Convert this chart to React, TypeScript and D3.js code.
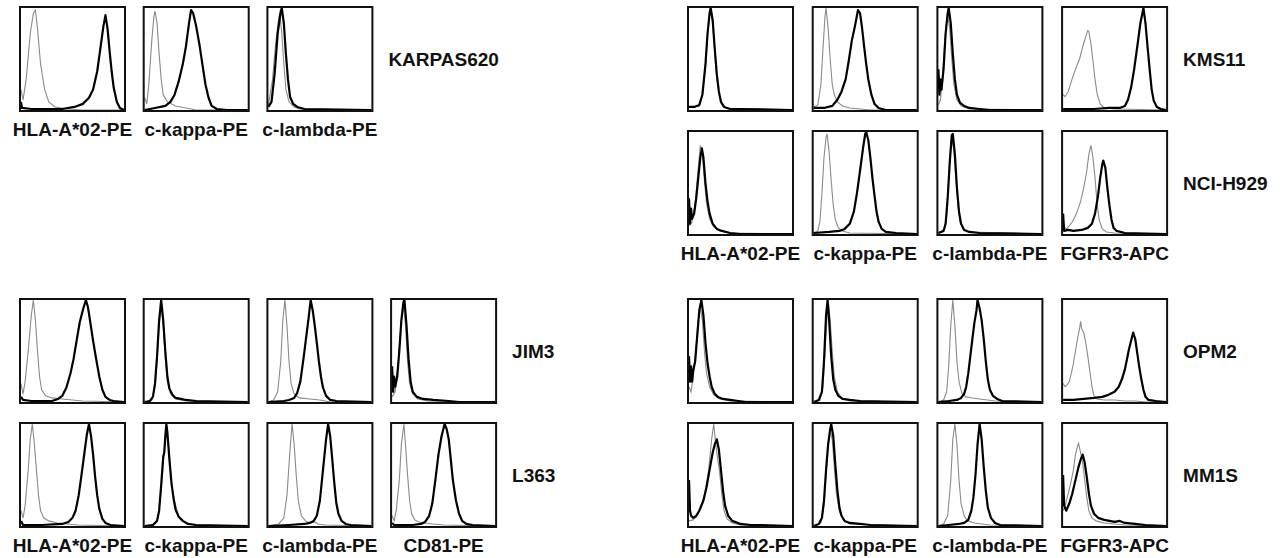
import React from "react";
import * as d3 from "d3";

type Pt = [number, number];

// x = position along the (log) fluorescence axis, 0-100 ; y = % of max count
const MARKERS_BASIC = ["HLA-A*02-PE", "c-kappa-PE", "c-lambda-PE"];
const MARKERS_CD81 = ["HLA-A*02-PE", "c-kappa-PE", "c-lambda-PE", "CD81-PE"];
const MARKERS_FGFR3 = ["HLA-A*02-PE", "c-kappa-PE", "c-lambda-PE", "FGFR3-APC"];

// grey = isotype control, black = specific stain
const KARPAS620_ISO: Pt[][] = [
  [[0,20],[2,10],[5,30],[9,75],[12,95],[14,98],[16,80],[19,45],[23,20],[27,8],[33,3],[45,1],[60,0],[100,0]],
  [[0,12],[2,6],[4,25],[7,70],[9,92],[10,97],[12,85],[14,55],[16,30],[18,15],[22,8],[30,4],[40,2],[45,1],[50,0],[100,0]],
  [[0,5],[4,30],[7,65],[10,90],[11,95],[13,75],[15,45],[17,20],[20,8],[25,3],[30,1],[100,0]],
];
const KARPAS620_STAIN: Pt[][] = [
  [[0,8],[1,2],[10,1],[40,1],[52,3],[60,6],[66,12],[70,20],[74,38],[77,60],[80,82],[82,93],[84,80],[86,58],[88,38],[90,22],[93,8],[96,2],[100,0]],
  [[0,0],[10,2],[20,4],[25,8],[29,15],[33,28],[37,45],[40,62],[43,85],[45,98],[47,95],[50,82],[53,65],[56,45],[59,25],[62,12],[65,4],[70,1],[80,0],[100,0]],
  [[0,3],[3,8],[6,35],[9,75],[12,97],[13,100],[15,85],[17,55],[19,30],[21,13],[24,6],[28,3],[35,1],[100,0]],
];

const KMS11_ISO: Pt[][] = [
  [[0,3],[10,4],[13,14],[16,42],[18,72],[20,93],[21,98],[23,85],[25,58],[27,32],[29,16],[32,6],[36,2],[45,0],[100,0]],
  [[0,3],[4,5],[7,25],[9,60],[11,92],[12,100],[14,80],[16,50],[18,25],[20,15],[23,8],[28,4],[35,2],[45,1],[55,0],[100,0]],
  [[0,5],[2,10],[4,30],[6,65],[8,88],[9,92],[11,80],[13,50],[15,25],[18,10],[22,4],[30,1],[100,0]],
  [[0,15],[2,13],[5,18],[8,28],[12,40],[16,50],[19,62],[22,72],[24,78],[25,77],[27,65],[29,48],[31,30],[33,16],[36,6],[40,2],[50,1],[100,0]],
];
const KMS11_STAIN: Pt[][] = [
  [[0,3],[5,3],[10,5],[13,15],[16,45],[18,75],[20,95],[21,100],[23,88],[25,60],[27,35],[29,18],[31,8],[34,3],[40,1],[50,1],[100,0]],
  [[0,2],[10,2],[18,4],[23,10],[27,18],[31,30],[34,48],[37,68],[40,82],[43,98],[45,95],[47,80],[49,62],[51,45],[53,30],[56,15],[59,6],[63,2],[70,0],[100,0]],
  [[0,40],[1,15],[2,30],[3,20],[5,40],[7,75],[9,95],[10,100],[12,85],[14,55],[16,30],[18,15],[21,7],[25,4],[30,2],[40,1],[50,0],[100,0]],
  [[0,1],[30,1],[45,2],[55,2],[60,4],[63,10],[66,22],[69,40],[72,62],[75,85],[78,100],[80,85],[82,62],[84,40],[86,20],[88,9],[91,3],[95,1],[100,0]],
];

const NCIH929_ISO: Pt[][] = [
  [[0,8],[3,12],[6,30],[9,65],[11,87],[13,78],[15,52],[17,30],[20,15],[24,7],[30,3],[40,1],[100,0]],
  [[0,1],[4,3],[6,12],[8,40],[10,75],[12,95],[13,98],[15,80],[17,52],[19,28],[21,14],[24,6],[28,3],[35,1],[100,0]],
  [[0,1],[6,5],[8,20],[10,55],[12,88],[13,93],[15,82],[17,55],[19,28],[21,12],[24,5],[30,2],[100,0]],
  [[0,8],[3,5],[6,8],[9,12],[13,20],[17,32],[20,45],[23,62],[25,78],[27,87],[29,75],[31,55],[33,30],[35,14],[38,5],[42,2],[50,1],[100,0]],
];
const NCIH929_STAIN: Pt[][] = [
  [[0,35],[1,10],[2,25],[3,15],[5,20],[7,35],[9,55],[11,75],[12.5,84],[14,75],[16,50],[18,32],[20,20],[23,10],[27,5],[32,3],[40,1],[50,0],[100,0]],
  [[0,1],[15,2],[25,3],[30,5],[35,10],[39,22],[42,40],[45,62],[48,85],[50,98],[51,100],[53,92],[55,75],[57,55],[59,38],[61,22],[63,12],[66,5],[70,2],[80,1],[100,0]],
  [[0,1],[5,3],[7,10],[9,35],[11,70],[13,97],[14,98],[16,78],[18,45],[20,22],[22,10],[25,4],[30,2],[40,1],[100,0]],
  [[0,20],[1,3],[5,4],[10,3],[18,4],[24,6],[28,10],[31,20],[34,38],[36,55],[38,68],[39,72],[41,65],[43,45],[45,28],[47,14],[49,6],[52,3],[60,1],[100,0]],
];

const JIM3_ISO: Pt[][] = [
  [[0,18],[2,8],[4,20],[7,50],[10,85],[12,100],[14,80],[16,50],[18,25],[20,12],[24,6],[30,4],[40,3],[50,2],[60,1],[100,0]],
  [[0,0],[7,2],[10,15],[12,40],[14,75],[16,95],[18,75],[20,42],[22,20],[25,8],[30,3],[40,1],[100,0]],
  [[0,0],[5,2],[9,10],[12,40],[14,80],[16,100],[18,75],[20,40],[22,18],[25,8],[30,4],[40,3],[50,2],[55,1],[60,0],[100,0]],
  [[0,5],[3,10],[6,40],[9,80],[11,95],[13,75],[15,40],[17,18],[20,8],[25,3],[35,1],[100,0]],
];
const JIM3_STAIN: Pt[][] = [
  [[0,5],[2,2],[10,1],[30,1],[36,3],[40,6],[44,14],[48,28],[51,42],[54,60],[57,78],[60,90],[63,100],[65,93],[67,80],[70,60],[73,42],[76,25],[79,12],[82,5],[86,2],[90,1],[100,0]],
  [[0,0],[5,1],[8,5],[10,18],[12,45],[14,80],[16,100],[18,80],[20,50],[22,25],[24,13],[27,7],[30,4],[35,3],[40,2],[50,1],[100,0]],
  [[0,0],[15,1],[20,2],[25,4],[28,9],[31,20],[34,42],[37,66],[39,82],[41,100],[43,90],[45,75],[47,58],[49,40],[51,25],[53,14],[56,6],[60,2],[66,1],[100,0]],
  [[0,35],[1,10],[2,25],[3,15],[5,25],[7,50],[9,80],[11,98],[12,100],[14,75],[16,42],[18,20],[20,10],[24,5],[30,3],[40,2],[55,1],[65,0],[100,0]],
];

const L363_ISO: Pt[][] = [
  [[0,15],[2,8],[4,20],[7,55],[9,85],[11,100],[13,80],[15,55],[17,30],[19,15],[22,8],[27,5],[35,3],[45,2],[55,1],[100,0]],
  [[0,0],[10,2],[13,8],[16,35],[19,75],[21,92],[23,80],[25,55],[27,35],[30,20],[33,10],[37,5],[42,2],[50,1],[100,0]],
  [[0,0],[10,2],[15,8],[18,30],[21,75],[23,100],[25,80],[27,50],[29,25],[32,10],[36,5],[40,3],[45,4],[48,2],[55,1],[100,0]],
  [[0,10],[2,5],[4,15],[7,45],[9,80],[11.5,100],[13,80],[15,50],[17,25],[19,12],[22,6],[26,4],[32,3],[40,2],[50,1],[100,0]],
];
const L363_STAIN: Pt[][] = [
  [[0,5],[2,1],[20,1],[40,2],[46,4],[50,8],[53,15],[56,30],[59,52],[62,75],[64,90],[66,100],[68,88],[70,70],[72,48],[74,30],[76,17],[79,7],[82,3],[87,1],[100,0]],
  [[0,0],[8,1],[12,5],[14,15],[16,40],[18,68],[19,72],[20,88],[21,100],[22,92],[24,65],[26,42],[28,27],[30,16],[33,9],[37,5],[42,2],[50,1],[100,0]],
  [[0,0],[20,1],[35,2],[40,3],[44,5],[47,10],[50,25],[53,55],[56,85],[58,100],[60,88],[62,65],[64,42],[66,22],[68,12],[71,5],[75,2],[80,1],[100,0]],
  [[0,3],[2,1],[20,1],[28,2],[32,4],[36,10],[39,22],[42,45],[45,70],[48,88],[51,100],[53,95],[55,85],[57,65],[59,45],[62,25],[65,12],[68,5],[72,2],[78,1],[100,0]],
];

const OPM2_ISO: Pt[][] = [
  [[0,15],[2,10],[4,25],[7,55],[9,80],[11,92],[13,80],[15,50],[17,28],[20,15],[24,7],[30,3],[40,1],[100,0]],
  [[0,0],[6,2],[9,15],[11,50],[13,85],[14.5,95],[16,80],[18,50],[20,25],[23,10],[27,4],[35,1],[100,0]],
  [[0,0],[5,2],[8,10],[10,35],[12,75],[14,100],[16,75],[18,40],[20,20],[23,8],[27,5],[33,4],[40,3],[48,2],[55,1],[100,0]],
  [[0,18],[2,15],[4,17],[6,20],[8,28],[10,38],[12,50],[14,62],[16,72],[17,79],[18,72],[20,68],[22,58],[24,45],[26,30],[28,15],[30,6],[33,3],[40,2],[50,2],[60,1],[70,1],[80,0],[100,0]],
];
const OPM2_STAIN: Pt[][] = [
  [[0,45],[1,20],[2,35],[3,20],[4,30],[6,40],[8,65],[10,90],[12,100],[14,85],[16,58],[18,38],[20,25],[22,15],[25,8],[28,5],[33,3],[40,2],[48,1],[55,0],[100,0]],
  [[0,0],[5,2],[8,10],[10,40],[12,85],[13.5,100],[15,80],[17,45],[19,22],[21,12],[24,6],[28,3],[35,2],[45,1],[100,0]],
  [[0,0],[10,1],[18,2],[22,4],[25,8],[27,15],[29,28],[31,45],[33,62],[35,78],[37,90],[38,100],[40,92],[42,80],[44,62],[46,40],[48,22],[50,12],[53,6],[57,3],[62,1],[100,0]],
  [[0,2],[10,2],[20,3],[30,4],[38,5],[44,7],[50,10],[54,15],[57,22],[60,32],[62,42],[64,52],[66,60],[68,68],[70,62],[72,48],[74,34],[76,22],[78,12],[80,5],[83,2],[90,1],[100,0]],
];

const MM1S_ISO: Pt[][] = [
  [[0,5],[4,6],[8,10],[12,20],[16,35],[19,55],[22,85],[24,100],[26,80],[28,65],[30,50],[32,30],[34,15],[37,7],[42,3],[50,1],[100,0]],
  [[0,0],[7,3],[10,20],[12,50],[14,78],[16,93],[18,85],[20,58],[22,32],[25,14],[29,6],[35,2],[100,0]],
  [[0,0],[5,2],[9,10],[12,45],[14,85],[16,100],[18,80],[20,45],[22,22],[25,10],[28,5],[35,3],[42,2],[50,1],[100,0]],
  [[0,15],[2,20],[4,28],[7,40],[10,55],[12,70],[14,78],[15,81],[17,72],[19,62],[21,45],[23,28],[25,15],[28,8],[32,5],[40,3],[50,2],[60,1],[100,0]],
];
const MM1S_STAIN: Pt[][] = [
  [[0,45],[1,15],[2,10],[4,8],[7,10],[10,15],[14,25],[17,38],[20,55],[23,72],[25,80],[27,85],[29,75],[31,55],[33,35],[35,20],[38,10],[42,5],[50,2],[60,1],[70,1],[100,0]],
  [[0,0],[5,2],[8,8],[10,25],[12,55],[14,80],[16,95],[17,100],[19,88],[21,60],[23,35],[25,18],[27,10],[30,5],[35,3],[45,2],[55,1],[100,0]],
  [[0,0],[10,1],[20,2],[25,3],[29,6],[32,15],[34,28],[36,50],[38,80],[40,100],[42,85],[44,58],[46,35],[48,18],[51,8],[55,3],[60,1],[100,0]],
  [[0,50],[1,20],[3,15],[6,22],[9,32],[12,45],[15,58],[17,65],[19,70],[21,62],[23,48],[25,32],[27,20],[30,12],[34,8],[40,6],[50,4],[55,5],[60,3],[70,2],[80,1],[100,0]],
];

const CELL_LINES = [
  { name: "KARPAS620", markers: MARKERS_BASIC, iso: KARPAS620_ISO, stain: KARPAS620_STAIN },
  { name: "KMS11", markers: MARKERS_FGFR3, iso: KMS11_ISO, stain: KMS11_STAIN },
  { name: "NCI-H929", markers: MARKERS_FGFR3, iso: NCIH929_ISO, stain: NCIH929_STAIN },
  { name: "JIM3", markers: MARKERS_CD81, iso: JIM3_ISO, stain: JIM3_STAIN },
  { name: "L363", markers: MARKERS_CD81, iso: L363_ISO, stain: L363_STAIN },
  { name: "OPM2", markers: MARKERS_FGFR3, iso: OPM2_ISO, stain: OPM2_STAIN },
  { name: "MM1S", markers: MARKERS_FGFR3, iso: MM1S_ISO, stain: MM1S_STAIN },
];

// layout: where each row of panels sits, and whether marker labels go under it
const LAYOUT: Record<string, { x0: number; step: number; y0: number; labels: boolean }> = {
  KARPAS620: { x0: 19, step: 123.7, y0: 6, labels: true },
  KMS11: { x0: 687, step: 124.7, y0: 6, labels: false },
  "NCI-H929": { x0: 687, step: 124.7, y0: 130, labels: true },
  JIM3: { x0: 19, step: 123.7, y0: 298, labels: false },
  L363: { x0: 19, step: 123.7, y0: 422, labels: true },
  OPM2: { x0: 687, step: 124.7, y0: 298, labels: false },
  MM1S: { x0: 687, step: 124.7, y0: 422, labels: true },
};

const W = 1286;
const H = 558;
const PW = 107;
const PH = 106;
const FONT = "'Liberation Sans', Arial, Helvetica, sans-serif";

const x = d3.scaleLinear().domain([0, 100]).range([2, PW - 2]);
const y = d3.scaleLinear().domain([0, 100]).range([PH - 2, 2]);
const line = d3
  .line<Pt>()
  .x((d) => x(d[0]))
  .y((d) => y(d[1]))
  .curveLinear;

const path = d3
  .line<Pt>()
  .x((d) => x(d[0]))
  .y((d) => y(d[1]))
  .curve(d3.curveLinear);

export default function App() {
  void line;
  return (
    <svg
      width={W}
      height={H}
      style={{ position: "absolute", left: 0, top: 0, background: "#fff" }}
      fontFamily={FONT}
    >
      {CELL_LINES.map((cl) => {
        const L = LAYOUT[cl.name];
        const n = cl.markers.length;
        const lastRight = L.x0 + (n - 1) * L.step + PW;
        return (
          <g key={cl.name}>
            {cl.markers.map((m, i) => {
              const px = L.x0 + i * L.step;
              return (
                <g key={m} transform={`translate(${px},${L.y0})`}>
                  <path d={path(cl.iso[i]) || ""} fill="none" stroke="#8a8a8a" strokeWidth={1.1} />
                  <path d={path(cl.stain[i]) || ""} fill="none" stroke="#000" strokeWidth={2.2} strokeLinejoin="round" />
                  <rect x={1} y={1} width={PW - 2} height={PH - 2} fill="none" stroke="#111" strokeWidth={2} />
                  {L.labels && (
                    <text
                      x={PW / 2}
                      y={PH + 24}
                      textAnchor="middle"
                      fontSize={19}
                      fontWeight="bold"
                      fill="#111"
                    >
                      {m}
                    </text>
                  )}
                </g>
              );
            })}
            <text
              x={lastRight + 15}
              y={L.y0 + PH / 2 + 7}
              fontSize={19}
              fontWeight="bold"
              fill="#111"
            >
              {cl.name}
            </text>
          </g>
        );
      })}
    </svg>
  );
}
